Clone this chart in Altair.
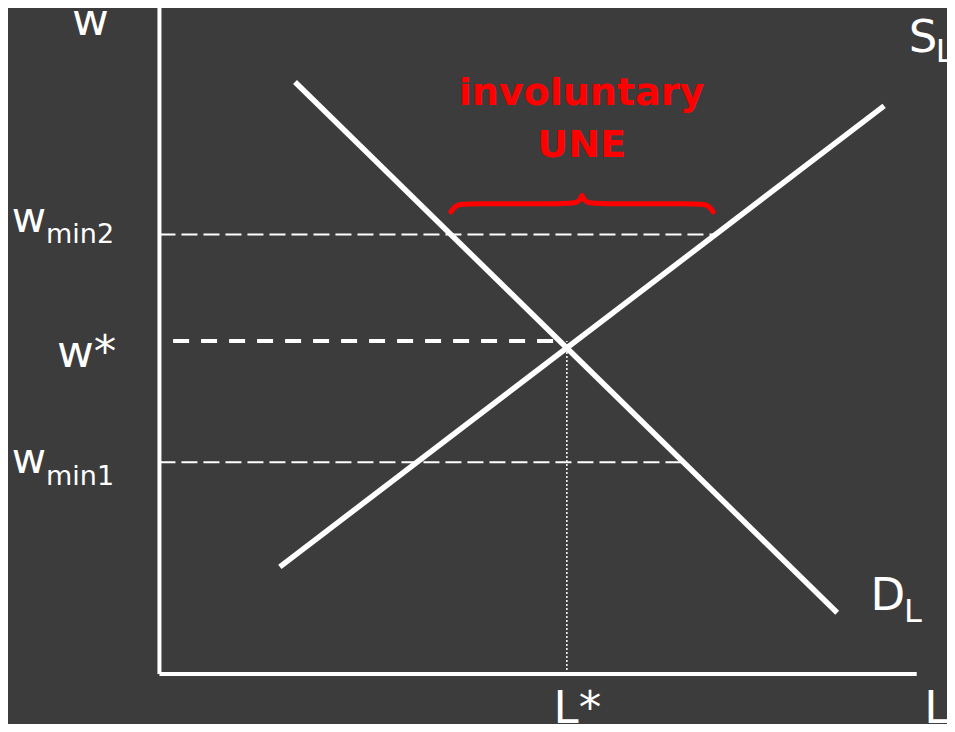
import altair as alt
import pandas as pd

# ---- values (L = labour, w = wage; arbitrary units) ----
demand_L = [17.9, 89.5]
demand_w = [88.9, 9.2]
supply_L = [15.9, 95.7]
supply_w = [16.1, 85.3]

w_star = 50.0
L_star = 53.8
w_min2 = 66.0
w_min1 = 31.8
w_min2_end = 73.4     # where the w_min2 guide meets supply
w_min1_end = 69.0     # where the w_min1 guide meets demand
w_star_start = 1.8
w_star_end = 52.0

axis_L_max = 100.0
axis_w_max = 100.0

# brace over the unemployment gap (two halves)
brace_part = ["a"] * 6 + ["b"] * 6
brace_L = [38.5, 39.2, 41.0, 53.8, 55.3, 55.8, 55.8, 56.3, 57.8, 70.6, 72.4, 73.1]
brace_w = [69.4, 70.6, 70.6, 70.6, 70.7, 71.8, 71.8, 70.7, 70.6, 70.6, 70.6, 69.4]

# labels
main_text = ["w", "w*", "L*", "L", "S", "D"]
main_L = [-11.55, -13.53, 52.05, 101.0, 98.95, 93.91]
main_w = [95.95, 46.1, -7.3, -7.3, 93.4, 9.6]

wmin_text = ["w", "w"]
wmin_L = [-19.5, -19.5]
wmin_w = [66.4, 30.2]

minsub_text = ["min2", "min1"]
minsub_L = [-14.98, -14.98]
minsub_w = [64.7, 28.4]

Lsub_text = ["L", "L"]
Lsub_L = [102.5, 98.33]
Lsub_w = [91.9, 7.8]

red_text = ["involuntary", "UNE"]
red_L = [55.73, 55.75]
red_w = [85.47, 77.63]

# ---- scales ----
xs = alt.Scale(domain=[-20, 104], nice=False, zero=False)
ys = alt.Scale(domain=[-7.5, 100], nice=False, zero=False)

BG = "#3c3c3c"
WHITE = "#ffffff"
RED = "#ff0000"
FONT = "DejaVu Sans"


def enc_rule():
    return dict(
        x=alt.X("x:Q", scale=xs, axis=None),
        x2="x2:Q",
        y=alt.Y("y:Q", scale=ys, axis=None),
        y2="y2:Q",
    )


curves = pd.DataFrame({
    "x": [demand_L[0], supply_L[0]], "x2": [demand_L[1], supply_L[1]],
    "y": [demand_w[0], supply_w[0]], "y2": [demand_w[1], supply_w[1]],
})
axes_df = pd.DataFrame({
    "x": [0, 0], "x2": [axis_L_max, 0],
    "y": [0, 0], "y2": [0, axis_w_max],
})
thin_dash = pd.DataFrame({
    "x": [0, 0], "x2": [w_min2_end, w_min1_end],
    "y": [w_min2, w_min1], "y2": [w_min2, w_min1],
})
thick_dash = pd.DataFrame({
    "x": [w_star_start], "x2": [w_star_end], "y": [w_star], "y2": [w_star],
})
dotted = pd.DataFrame({
    "x": [L_star], "x2": [L_star], "y": [0], "y2": [w_star],
})

thin_layer = alt.Chart(thin_dash).mark_rule(
    color=WHITE, strokeWidth=2, strokeDash=[16, 6]).encode(**enc_rule())
thick_layer = alt.Chart(thick_dash).mark_rule(
    color=WHITE, strokeWidth=4, strokeDash=[16, 12]).encode(**enc_rule())
dot_layer = alt.Chart(dotted).mark_rule(
    color=WHITE, strokeWidth=1.5, strokeDash=[2, 2]).encode(**enc_rule())
curve_layer = alt.Chart(curves).mark_rule(
    color=WHITE, strokeWidth=5.5, strokeCap="butt").encode(**enc_rule())
axes_layer = alt.Chart(axes_df).mark_rule(
    color=WHITE, strokeWidth=4, strokeCap="butt").encode(**enc_rule())

brace_df = pd.DataFrame({"L": brace_L, "w": brace_w, "part": brace_part,
                         "order": list(range(len(brace_L)))})
brace_layer = alt.Chart(brace_df).mark_line(
    color=RED, strokeWidth=5, interpolate="basis", strokeCap="round").encode(
    x=alt.X("L:Q", scale=xs, axis=None),
    y=alt.Y("w:Q", scale=ys, axis=None),
    detail="part:N",
    order="order:Q",
)


def text_layer(texts, Ls, ws, size, color=WHITE, weight="normal", align="left"):
    df = pd.DataFrame({"t": texts, "L": Ls, "w": ws})
    return alt.Chart(df).mark_text(
        font=FONT, fontSize=size, fontWeight=weight, color=color,
        align=align, baseline="alphabetic").encode(
        x=alt.X("L:Q", scale=xs, axis=None),
        y=alt.Y("w:Q", scale=ys, axis=None),
        text="t:N",
    )


main_layer = text_layer(main_text, main_L, main_w, 45)
wmin_layer = text_layer(wmin_text, wmin_L, wmin_w, 42)
minsub_layer = text_layer(minsub_text, minsub_L, minsub_w, 27)
Lsub_layer = text_layer(Lsub_text, Lsub_L, Lsub_w, 32)
red_layer = text_layer(red_text, red_L, red_w, 38, color=RED, weight="bold",
                       align="center")

chart = alt.layer(
    thin_layer, thick_layer, dot_layer, curve_layer, axes_layer,
    brace_layer, main_layer, wmin_layer, minsub_layer, Lsub_layer, red_layer,
).properties(
    width=939, height=716, padding=0, background=BG,
    autosize=alt.AutoSizeParams(type="none"),
).configure_view(stroke=None)

chart.save("out.html", embed_options={"renderer": "svg", "actions": False})
